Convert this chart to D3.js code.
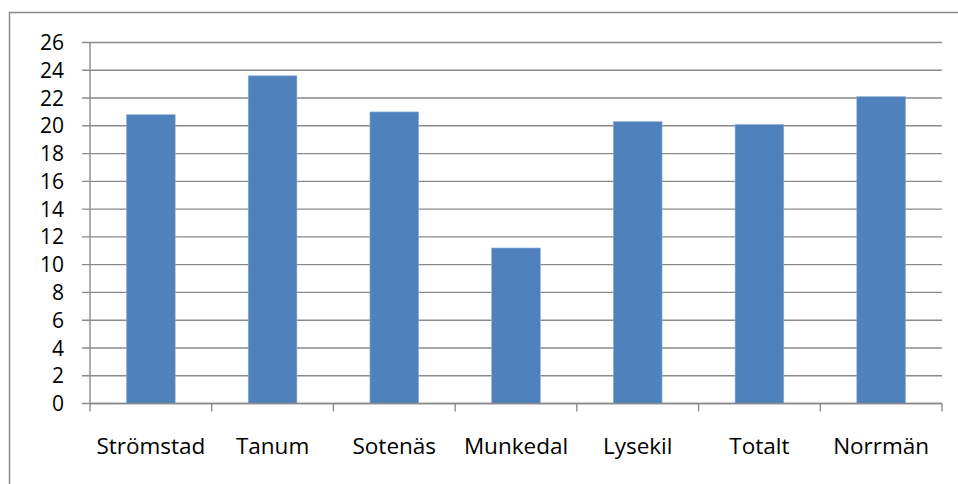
<!DOCTYPE html>
<html>
<head>
<meta charset="utf-8">
<script src="https://cdn.jsdelivr.net/npm/d3@7"></script>
<style>
  body { margin: 0; background: #fff; }
  text { font-family: "Open Sans", sans-serif; fill: #000; }
</style>
</head>
<body>
<div id="chart"></div>
<script>
// data
var categories = ["Strömstad", "Tanum", "Sotenäs", "Munkedal", "Lysekil", "Totalt", "Norrmän"];
var values = [20.8, 23.6, 21.0, 11.2, 20.3, 20.1, 22.1];
var yTicks = [0, 2, 4, 6, 8, 10, 12, 14, 16, 18, 20, 22, 24, 26];

var width = 958, height = 484;
var margin = { top: 42.5, right: 16, bottom: 80.5, left: 90 };
var plotW = width - margin.left - margin.right,
    plotH = height - margin.top - margin.bottom;

var svg = d3.select("#chart")
    .append("svg")
    .attr("width", width)
    .attr("height", height);

// outer chart frame (runs off the right and bottom edges)
svg.append("path")
    .attr("d", "M9.5," + (height + 5) + "V12.5H" + (width + 5))
    .attr("fill", "none")
    .attr("stroke", "#878787")
    .attr("stroke-width", 1.5);

var g = svg.append("g")
    .attr("transform", "translate(" + margin.left + "," + margin.top + ")");

var x = d3.scaleBand()
    .domain(categories)
    .range([0, plotW])
    .paddingInner(0.6)
    .paddingOuter(0.3);

var y = d3.scaleLinear()
    .domain([0, 26])
    .range([plotH, 0]);

// gridlines + y ticks
g.append("g")
    .selectAll("line")
    .data(yTicks)
    .join("line")
    .attr("x1", -8)
    .attr("x2", plotW)
    .attr("y1", function (d) { return y(d); })
    .attr("y2", function (d) { return y(d); })
    .attr("stroke", "#8a8a8a")
    .attr("stroke-width", 1.4);

// y labels
g.append("g")
    .selectAll("text")
    .data(yTicks)
    .join("text")
    .attr("x", -26)
    .attr("y", function (d) { return y(d); })
    .attr("dy", "0.36em")
    .attr("text-anchor", "end")
    .style("font-size", "21px")
    .text(function (d) { return d; });

// bars
g.append("g")
    .selectAll("rect")
    .data(values)
    .join("rect")
    .attr("x", function (d, i) { return x(categories[i]); })
    .attr("width", x.bandwidth())
    .attr("y", function (d) { return y(d); })
    .attr("height", function (d) { return y(0) - y(d); })
    .attr("fill", "#4f81bd")
    .attr("stroke", "#8fb0d8")
    .attr("stroke-width", 0.6);

// y axis line
g.append("line")
    .attr("x1", 0).attr("x2", 0)
    .attr("y1", 0).attr("y2", plotH)
    .attr("stroke", "#8a8a8a")
    .attr("stroke-width", 1.4);

// x axis line + category ticks
var step = plotW / categories.length;
var xTicks = d3.range(categories.length + 1).map(function (i) { return i * step; });
g.append("line")
    .attr("x1", 0).attr("x2", plotW)
    .attr("y1", plotH).attr("y2", plotH)
    .attr("stroke", "#8a8a8a")
    .attr("stroke-width", 1.4);
g.append("g")
    .selectAll("line")
    .data(xTicks)
    .join("line")
    .attr("x1", function (d) { return d; })
    .attr("x2", function (d) { return d; })
    .attr("y1", plotH)
    .attr("y2", plotH + 8)
    .attr("stroke", "#8a8a8a")
    .attr("stroke-width", 1.4);

// x labels
g.append("g")
    .selectAll("text")
    .data(categories)
    .join("text")
    .attr("x", function (d) { return x(d) + x.bandwidth() / 2; })
    .attr("y", plotH + 50)
    .attr("text-anchor", "middle")
    .style("font-size", "22.5px")
    .text(function (d) { return d; });
</script>
</body>
</html>
